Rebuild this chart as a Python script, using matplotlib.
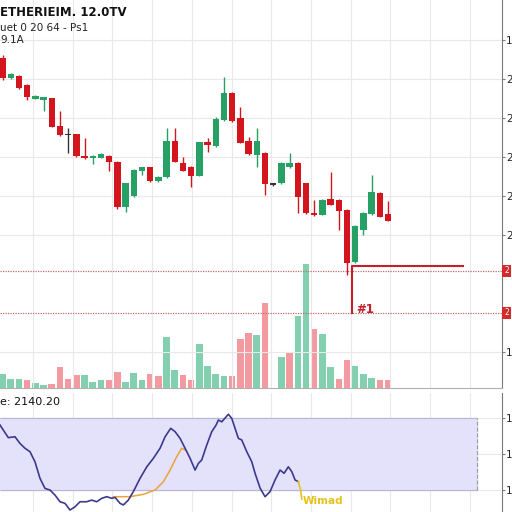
import matplotlib
matplotlib.use("Agg")
import matplotlib.pyplot as plt
import numpy as np

# ── Colours ────────────────────────────────────────────────────────────────
UP = "#26a065"
DOWN = "#d3161d"
DOJI = "#333333"
VOL_UP = "#82d0b0"
VOL_DOWN = "#f39aa0"
GRID = "#e9e9e9"
SPINE = "#7a7a7a"
MARK = "#c4202b"
BAND = "#e4e1fb"
OSC = "#3b3a8c"
ORANGE = "#e9a43a"
GOLD = "#e6c21a"

# ── Data ───────────────────────────────────────────────────────────────────
opens = [2427.3, 2401.3, 2404.2, 2392.3, 2374.4, 2373.7, 2375.3, 2339.8, 2327.6, 2329.5,
         2301.3, 2298.7, 2299.1, 2301.7, 2293.6, 2236.3, 2250.0, 2282.1, 2286.8, 2269.2,
         2274.0, 2320.9, 2291.9, 2287.6, 2276.0, 2319.6, 2314.1, 2347.4, 2382.5, 2349.6,
         2320.9, 2302.6, 2305.5, 2264.1, 2267.1, 2286.8, 2292.7, 2266.3, 2228.6, 2225.6,
         2245.8, 2244.9, 2232.1, 2165.0, 2206.4, 2226.5, 2254.2, 2226.9]
closes = [2400.9, 2406.4, 2388.1, 2377.3, 2378.6, 2376.5, 2338.9, 2328.2, 2328.9, 2301.3,
          2298.3, 2301.3, 2304.2, 2294.0, 2235.9, 2266.3, 2283.3, 2286.8, 2269.2, 2274.8,
          2320.9, 2294.0, 2282.1, 2276.0, 2318.9, 2315.4, 2348.7, 2382.5, 2346.2, 2318.3,
          2303.9, 2320.9, 2265.0, 2266.3, 2292.7, 2292.7, 2248.3, 2227.8, 2225.3, 2244.9,
          2238.5, 2231.2, 2164.5, 2211.9, 2228.6, 2255.5, 2223.5, 2218.3]
highs = [2430.8, 2407.7, 2405.0, 2393.0, 2379.0, 2377.0, 2376.0, 2359.4, 2337.6, 2330.0,
         2324.4, 2302.0, 2305.0, 2302.5, 2294.5, 2267.0, 2284.0, 2287.5, 2287.5, 2275.5,
         2336.8, 2336.8, 2300.4, 2288.3, 2319.5, 2324.0, 2351.7, 2402.2, 2383.5, 2364.1,
         2326.0, 2336.8, 2306.5, 2267.0, 2293.5, 2304.8, 2293.5, 2267.0, 2244.9, 2245.5,
         2281.2, 2245.5, 2233.0, 2212.5, 2229.3, 2276.9, 2255.0, 2244.0]
lows = [2398.7, 2400.0, 2387.0, 2373.1, 2374.0, 2359.0, 2338.0, 2327.5, 2305.1, 2300.5,
        2297.5, 2291.0, 2298.5, 2282.1, 2233.3, 2229.9, 2249.0, 2276.9, 2268.5, 2268.0,
        2273.0, 2293.0, 2281.5, 2261.9, 2275.0, 2306.8, 2313.0, 2346.5, 2345.0, 2317.5,
        2303.0, 2287.6, 2251.3, 2263.0, 2266.0, 2285.9, 2228.6, 2227.0, 2224.5, 2225.0,
        2238.0, 2206.4, 2148.7, 2164.0, 2200.0, 2225.8, 2222.8, 2217.5]

volumes = [14, 9, 9.3, 8.3, 5, 3.3, 4.3, 20.7, 9, 13.3,
           12.7, 6, 8.3, 8.3, 15.7, 6.3, 15, 8.3, 14, 12.3,
           51, 18.3, 13.3, 8.3, 44, 21.7, 14.3, 12.3, 12.3, 49.3,
           55, 53.3, 85, 0, 30.7, 35.7, 71.7, 124.3, 59.3, 54.3,
           20.7, 9, 28.3, 22.3, 14.3, 10, 7.7, 7.7]
vol_up = [1, 1, 1, 0, 1, 1, 0, 0, 0, 0,
          1, 1, 1, 0, 0, 1, 1, 1, 0, 0,
          1, 1, 0, 0, 1, 1, 1, 1, 0, 0,
          0, 1, 0, 1, 1, 0, 1, 1, 0, 1,
          1, 0, 0, 1, 1, 1, 0, 0]

price_ticks = [2450, 2400, 2350, 2300, 2250, 2200, 2050]
price_labels = ["1", "2", "2", "2", "2", "2", "1"]
levels = [2153.9, 2100.0]
level_labels = ["2", "2"]
bracket_top = 2160.7
bracket_x = [42.6, 56.2]

# oscillator (time in bar units, value)
osc_t = [-0.30, 0.10, 0.71, 1.52, 2.13, 2.74, 3.35, 3.96, 4.57, 5.18, 5.79, 6.40, 7.01,
         7.62, 8.23, 8.84, 9.45, 10.27, 10.88, 11.49, 12.10, 12.71, 13.32, 13.72, 14.33,
         14.73, 15.34, 15.95, 16.77, 17.59, 18.39, 19.21, 19.82, 20.51, 21.04, 21.65,
         22.26, 22.87, 23.48, 23.88, 24.29, 24.90, 25.51, 26.04, 26.32, 26.73, 27.54,
         27.95, 28.35, 28.76, 29.17, 29.78, 30.39, 30.79, 31.40, 32.01, 32.62, 33.23,
         33.84, 34.33, 34.85, 35.27, 35.67, 36.07]
osc_v = [66.1, 63.3, 59.1, 59.6, 55.9, 53.2, 51.3, 45.7, 36.5, 30.9, 30.0, 27.2, 23.5,
         22.6, 18.9, 20.7, 23.5, 23.5, 24.4, 23.5, 25.4, 26.3, 25.4, 25.9, 22.6,
         21.7, 24.4, 29.1, 36.5, 42.9, 47.6, 53.2, 59.6, 64.3, 62.4, 58.7,
         53.2, 47.6, 41.1, 44.8, 46.7, 55.0, 62.4, 66.1, 68.9, 67.9, 72.1,
         69.8, 64.3, 58.7, 57.8, 51.3, 45.7, 39.3, 31.1, 26.3, 29.1, 35.6,
         41.1, 39.3, 42.9, 40.2, 35.6, 34.6]
sig_t = [13.51, 15.55, 17.17, 18.60, 19.61, 20.43, 21.24, 21.85, 22.26]
sig_v = [26.3, 26.3, 27.6, 30.0, 34.6, 41.1, 48.5, 53.2, 52.2]
tail_t = [36.07, 36.34, 36.49]
tail_v = [34.6, 30.0, 25.0]
band = (30, 70)
osc_ticks = [70, 50, 30]

XLIM = (-0.305, 60.9)

# ── Figure ─────────────────────────────────────────────────────────────────
fig = plt.figure(figsize=(5.12, 5.12), dpi=100)
fig.patch.set_facecolor("white")
ax = fig.add_axes([0, 0.2422, 0.9805, 0.7578])
ax2 = fig.add_axes([0, 0, 0.9805, 0.2324])
vax = ax.twinx()

grid_x = np.arange(3.72, 61, 4.84)

def style_axis(a):
    a.set_xlim(*XLIM)
    a.set_xticks(grid_x)
    a.tick_params(axis="x", length=0, labelbottom=False)
    a.grid(True, color=GRID, lw=0.8, zorder=0)
    a.set_axisbelow(True)
    for s in ("top", "left", "bottom"):
        a.spines[s].set_visible(False)
    a.spines["right"].set_color(SPINE)
    a.spines["right"].set_linewidth(0.8)
    a.yaxis.tick_right()
    a.tick_params(axis="y", length=2, width=0.8, color=SPINE, pad=0.8,
                  labelsize=7.5, labelcolor="#222222")

# ══════════════════════════════════════════════════════════════════════════
# PRICE PANEL
# ══════════════════════════════════════════════════════════════════════════
style_axis(ax)
ax.set_ylim(2003.8, 2501.3)
ax.set_yticks(price_ticks)
ax.set_yticklabels(price_labels)
ax.spines["bottom"].set_visible(True)
ax.spines["bottom"].set_color("#b0b0b0")
ax.spines["bottom"].set_linewidth(0.8)

idx = np.arange(len(opens))

# volume (behind candles)
vax.set_ylim(0, 388)
vax.set_xlim(*XLIM)
vax.axis("off")
vcol = [VOL_UP if u else VOL_DOWN for u in vol_up]
vax.bar(idx, volumes, width=0.8, color=vcol, zorder=1)
ax.set_zorder(vax.get_zorder() + 1)
ax.patch.set_visible(False)

for i, (o, h, l, c) in enumerate(zip(opens, highs, lows, closes)):
    if abs(c - o) < 2.5:
        col = DOJI
    else:
        col = UP if c > o else DOWN
    ax.vlines(i, l, h, color=col, lw=1.0, zorder=3)
    body = max(abs(c - o), 1.2)
    ax.bar(i, body, bottom=min(o, c), width=0.78, color=col, zorder=4)

# support levels
for lv in levels:
    ax.axhline(lv, color="#c06a6a", lw=0.9, ls=(0, (1, 1)), zorder=2)

# bracket #1
ax.plot([bracket_x[1], bracket_x[0], bracket_x[0]],
        [bracket_top, bracket_top, levels[1]], color=MARK, lw=1.5, zorder=5)
ax.text(bracket_x[0] + 0.55, levels[1] + 5, "#1", color=MARK, fontsize=8.5,
        fontweight="bold", ha="left", va="center", zorder=6)

for lv, lab in zip(levels, level_labels):
    yf = 0.2422 + 0.7578 * (lv - 2003.8) / (2501.3 - 2003.8)
    fig.text(0.9845, yf, lab, color="white", fontsize=5.5, ha="left", va="center",
             bbox=dict(boxstyle="square,pad=0.25", fc="#d42a2a", ec="none"))

# header
fig.text(0.0, 0.9756, "ETHERIEIM. 12.0TV", fontsize=8.5, fontweight="bold",
         color="#111111", ha="left", va="center")
fig.text(0.0, 0.946, "uet 0 20 64 - Ps1", fontsize=7.5, color="#222222",
         ha="left", va="center")
fig.text(0.0, 0.921, "9.1A", fontsize=7.5, color="#222222", ha="left", va="center")

# ══════════════════════════════════════════════════════════════════════════
# OSCILLATOR PANEL
# ══════════════════════════════════════════════════════════════════════════
style_axis(ax2)
ax2.set_ylim(17.8, 83.9)
ax2.set_yticks(osc_ticks)
ax2.set_yticklabels(["1"] * len(osc_ticks))

band_end = 57.87
ax2.fill_between([XLIM[0], band_end], band[0], band[1], color=BAND, zorder=1)
ax2.hlines(band, XLIM[0], band_end, color="#b8b5d6", lw=0.8, zorder=2)
ax2.vlines(band_end, band[0], band[1], color="#9a9a9a", lw=0.8, ls="--", zorder=2)

ax2.plot(sig_t, sig_v, color=ORANGE, lw=1.1, zorder=3)
ax2.plot(osc_t, osc_v, color=OSC, lw=1.2, zorder=4)
ax2.plot(tail_t, tail_v, color=GOLD, lw=1.2, zorder=4)
ax2.text(36.55, 24.0, "Wimad", color=GOLD, fontsize=7.5, fontweight="bold",
         ha="left", va="center", zorder=5)

fig.text(0.0, 0.214, "e: 2140.20", fontsize=8, fontweight="medium",
         color="#111111", ha="left", va="center")

fig.savefig("out.png", dpi=100, facecolor="white")
